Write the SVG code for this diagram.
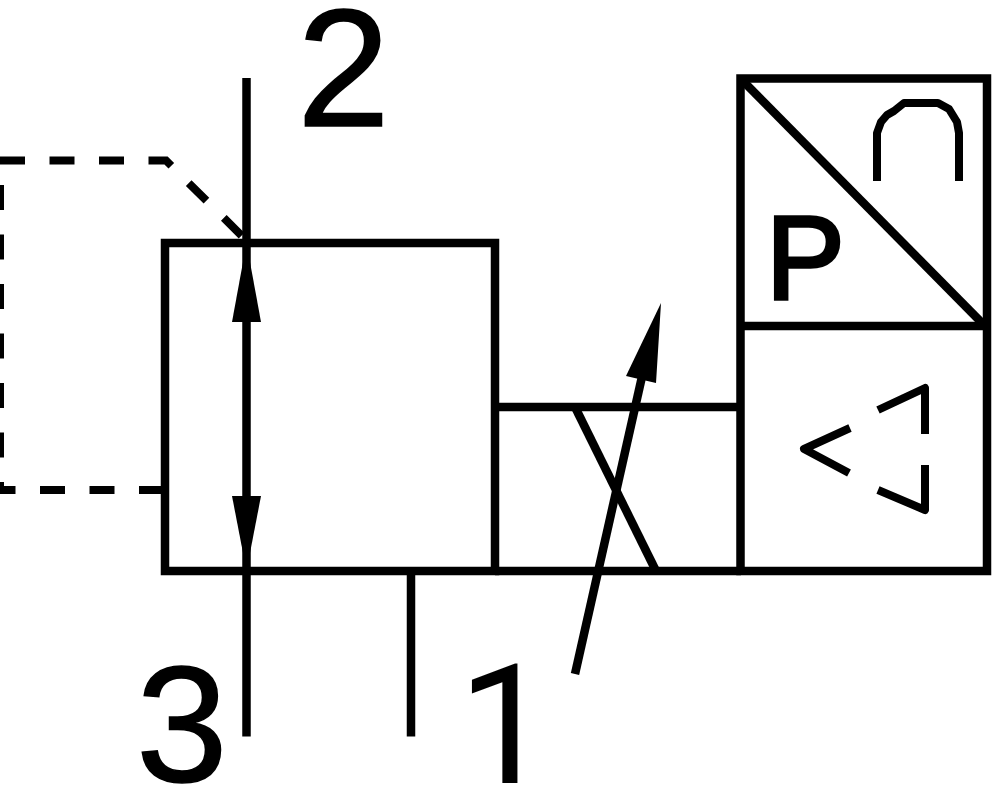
<svg xmlns="http://www.w3.org/2000/svg" width="1000" height="786" viewBox="0 0 1000 786">
<style>
.l{fill:none;stroke:#000;stroke-width:8.5;stroke-linecap:butt;stroke-linejoin:miter}
.s{fill:none;stroke:#000;stroke-width:8;stroke-linecap:butt;stroke-linejoin:round}
.d{fill:none;stroke:#000;stroke-width:8;stroke-dasharray:25 24.5}
.a{fill:#000;stroke:none}
.t{font-family:"Liberation Sans",Arial,sans-serif;fill:#000;stroke:#000;stroke-width:1.500}
</style>
<rect width="1000" height="786" fill="#fff"/>
<g id="connectors">
<path class="l" d="M246.500 78V736.500"/>
<path class="l" d="M411 571V736.500"/>
<path class="l" d="M495 407H741"/>
<path class="l" d="M495 571H741"/>
<path class="l" d="M575 407L656 571"/>
<path class="l" d="M575 674L648 350"/>
<polygon class="a" points="661,303 626,376 656,383"/>
<polygon class="a" points="246.500,243 232,322 261,322"/>
<polygon class="a" points="246.500,571 232,496 261,496"/>
<path class="d" d="M0 160.500H166L243 237"/>
<path class="d" d="M0 185V490"/>
<path class="d" d="M164 490H0"/>
</g>
<g id="valve-body"><rect class="l" x="165" y="243" width="330" height="328"/></g>
<g id="pilot-box">
<rect class="l" x="740.500" y="78.500" width="246.500" height="492.500"/>
<path class="l" d="M741 326H987"/>
<path class="l" d="M741 79L985 326"/>
<path class="s" d="M877 181V133L881 122L887 115L894 111L904 103H938L949 109L957 122L959 133V181"/>
<path class="s" d="M850 428L804 449L849 473"/>
<path class="s" d="M878 410L925 388V434"/>
<path class="s" d="M878 490L925 510V465"/>
<text class="t" x="766" y="299" font-size="118" style="stroke-width:3.500">P</text>
</g>
<g id="labels">
<text class="t" x="297" y="125.500" font-size="167">2</text>
<text class="t" x="136" y="781" font-size="165">3</text>
<text x="458" y="783" font-size="167" font-family="Roboto,sans-serif" fill="#000">1</text>
</g>
</svg>
